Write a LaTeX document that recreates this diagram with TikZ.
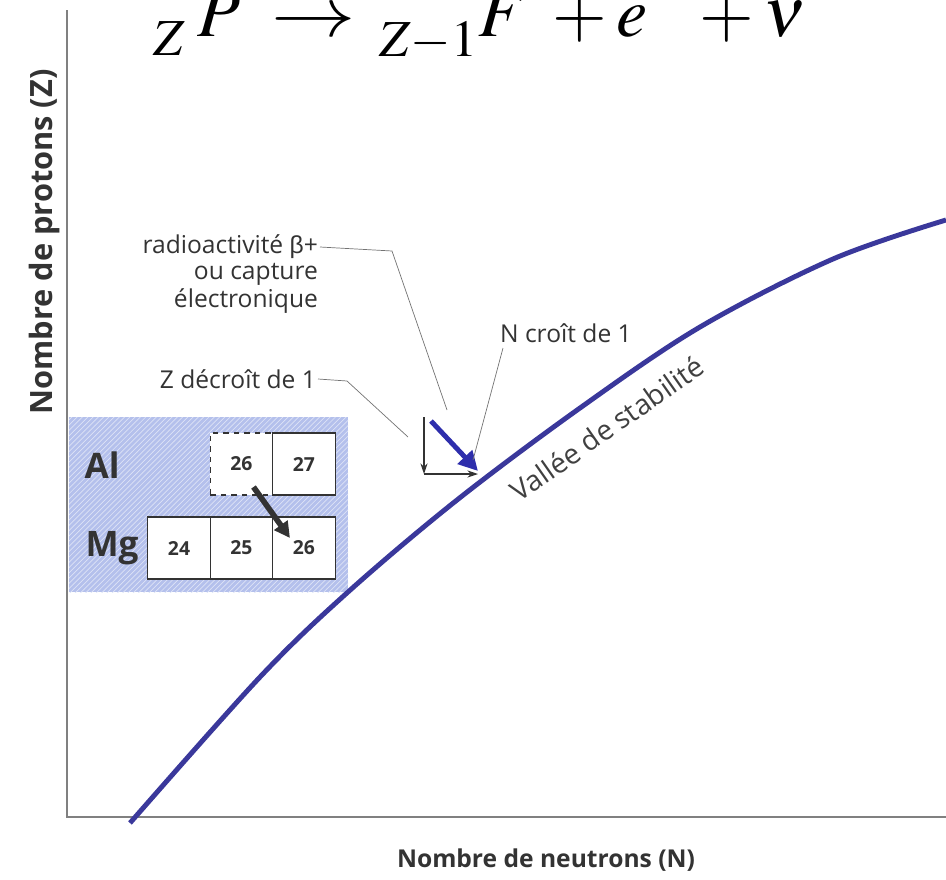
\documentclass[tikz,border=0pt]{standalone}
\usepackage{mathptmx}
\usepackage{fontspec}
\setsansfont{Open Sans}
\newfontfamily\greekfont{Liberation Sans}
\usepackage{tikz}
\usetikzlibrary{positioning, arrows.meta, patterns}
\definecolor{valleyblue}{RGB}{58,56,155}
\definecolor{arrowblue}{RGB}{46,46,172}
\definecolor{boxblue}{RGB}{180,192,236}
\definecolor{axisgray}{RGB}{128,128,128}
\tikzset{
    axis line/.style={draw=axisgray, line width=1.1pt},
    axis label/.style={font=\sffamily\bfseries\fontsize{14}{17}\selectfont, text=black!80, inner sep=0pt},
    note text/.style={font=\sffamily\fontsize{14}{16}\selectfont, text=black!80, align=right, inner sep=1pt},
    leader line/.style={draw=black!55, line width=0.4pt},
    cell box/.style={rectangle, draw=black!80, fill=white, line width=0.7pt, minimum width=1.25cm, minimum height=1.24cm, outer sep=0pt, inner sep=0pt, font=\sffamily\bfseries\fontsize{11}{13}\selectfont, text=black!80},
    element label/.style={font=\sffamily\bfseries\fontsize{20}{24}\selectfont, text=black!80, inner sep=0pt},
    valley label/.style={font=\sffamily\fontsize{16}{18}\selectfont, text=black!75, inner sep=0pt},
}
\newcommand{\decayarrow}{\mathrel{\scalebox{1.2}[1]{$\rightarrow$}}}

\begin{document}
\begin{tikzpicture}[x=0.02cm, y=-0.02cm]
\useasboundingbox (0,0) rectangle (946,879);
% equation, top cut off
\node[anchor=base west, inner sep=0pt, font=\fontsize{40}{44}\selectfont] (decay eq) at (153,36) {${}^{\vphantom{A}}_{Z}\mkern3mu P \mkern4mu\decayarrow\mkern2mu {}^{\vphantom{A}}_{Z-1} F \mkern4mu + e^{\phantom{+}} + \nu$};
% axes
\coordinate (origin) at (67,817);
\draw[axis line] (67,10) -- (origin) -- (946,817);
\node[axis label, rotate=90, font=\sffamily\bfseries\fontsize{17.5}{19}\selectfont] (z label) at (45,242) {Nombre de protons (Z)};
\node[axis label] (n label) at (546,860) {Nombre de neutrons (N)};
% table of isotopes
\path[preaction={fill=boxblue}, pattern=north east lines, pattern color=white!55!boxblue] (69,417) rectangle (348,592);
\node[cell box] (mg24) at (179,548) {24};
\node[cell box, right=0pt of mg24] (mg25) {25};
\node[cell box, right=0pt of mg25] (mg26) {26};
\node[cell box, dashed, above=0.44cm of mg25] (al26) {26};
\node[cell box, right=0pt of al26] (al27) {27};
\node[element label] (al) at (102,465) {Al};
\node[element label] (mg) at (112,548) {Mg};
\draw[-{Triangle[length=9pt, width=9pt]}, line width=3.2pt, draw=black!80] ([xshift=0.24cm, yshift=-0.46cm]al26.center) -- ([xshift=-0.28cm, yshift=0.2cm]mg26.center);
% valley of stability
\draw[valleyblue, line width=2.8pt] plot[smooth, tension=0.55] coordinates {(130,823) (260,677) (348,592) (457,500) (580,408) (700,327) (833,259) (946,220)};
\node[valley label, rotate=35, anchor=base] (valley) at (613,437) {Vallée de stabilité};
% decay step
\coordinate (dz top) at (424,417);
\coordinate (dz corner) at (424,474);
\coordinate (dn end) at (478,474);
\draw[-{Stealth[length=6pt, width=4pt]}, line width=0.6pt, black!80] (dz top) -- (dz corner);
\draw[-{Stealth[length=6pt, width=4pt]}, line width=0.6pt, black!80] (dz corner) -- (dn end);
\coordinate (beta start) at (431,421);
\coordinate (beta end) at (478,471);
\draw[-{Triangle[length=11pt, width=11pt]}, line width=2.8pt, arrowblue] (beta start) -- (beta end);
% notes
\node[note text, anchor=east] (beta note) at (320,247) {radioactivité {\greekfont β}+};
\node[note text, anchor=north east] (capture note) at (beta note.south east) {ou capture\\électronique};
\node[note text, anchor=east] (zdec note) at (318,379) {Z décroît de 1};
\node[note text, anchor=west] (ncroit note) at (498,333) {N croît de 1};
\coordinate (beta bend) at (392,251);
\coordinate (beta tip) at (447,410);
\coordinate (zdec bend) at (347,381);
\coordinate (zdec tip) at (408,437);
\coordinate (ncroit top) at (503,348);
\coordinate (ncroit tip) at (473,460);
\draw[leader line] (beta note.east) -- (beta bend) -- (beta tip);
\draw[leader line] (zdec note.east) -- (zdec bend) -- (zdec tip);
\draw[leader line] (ncroit top) -- (ncroit tip);
\end{tikzpicture}
\end{document}
